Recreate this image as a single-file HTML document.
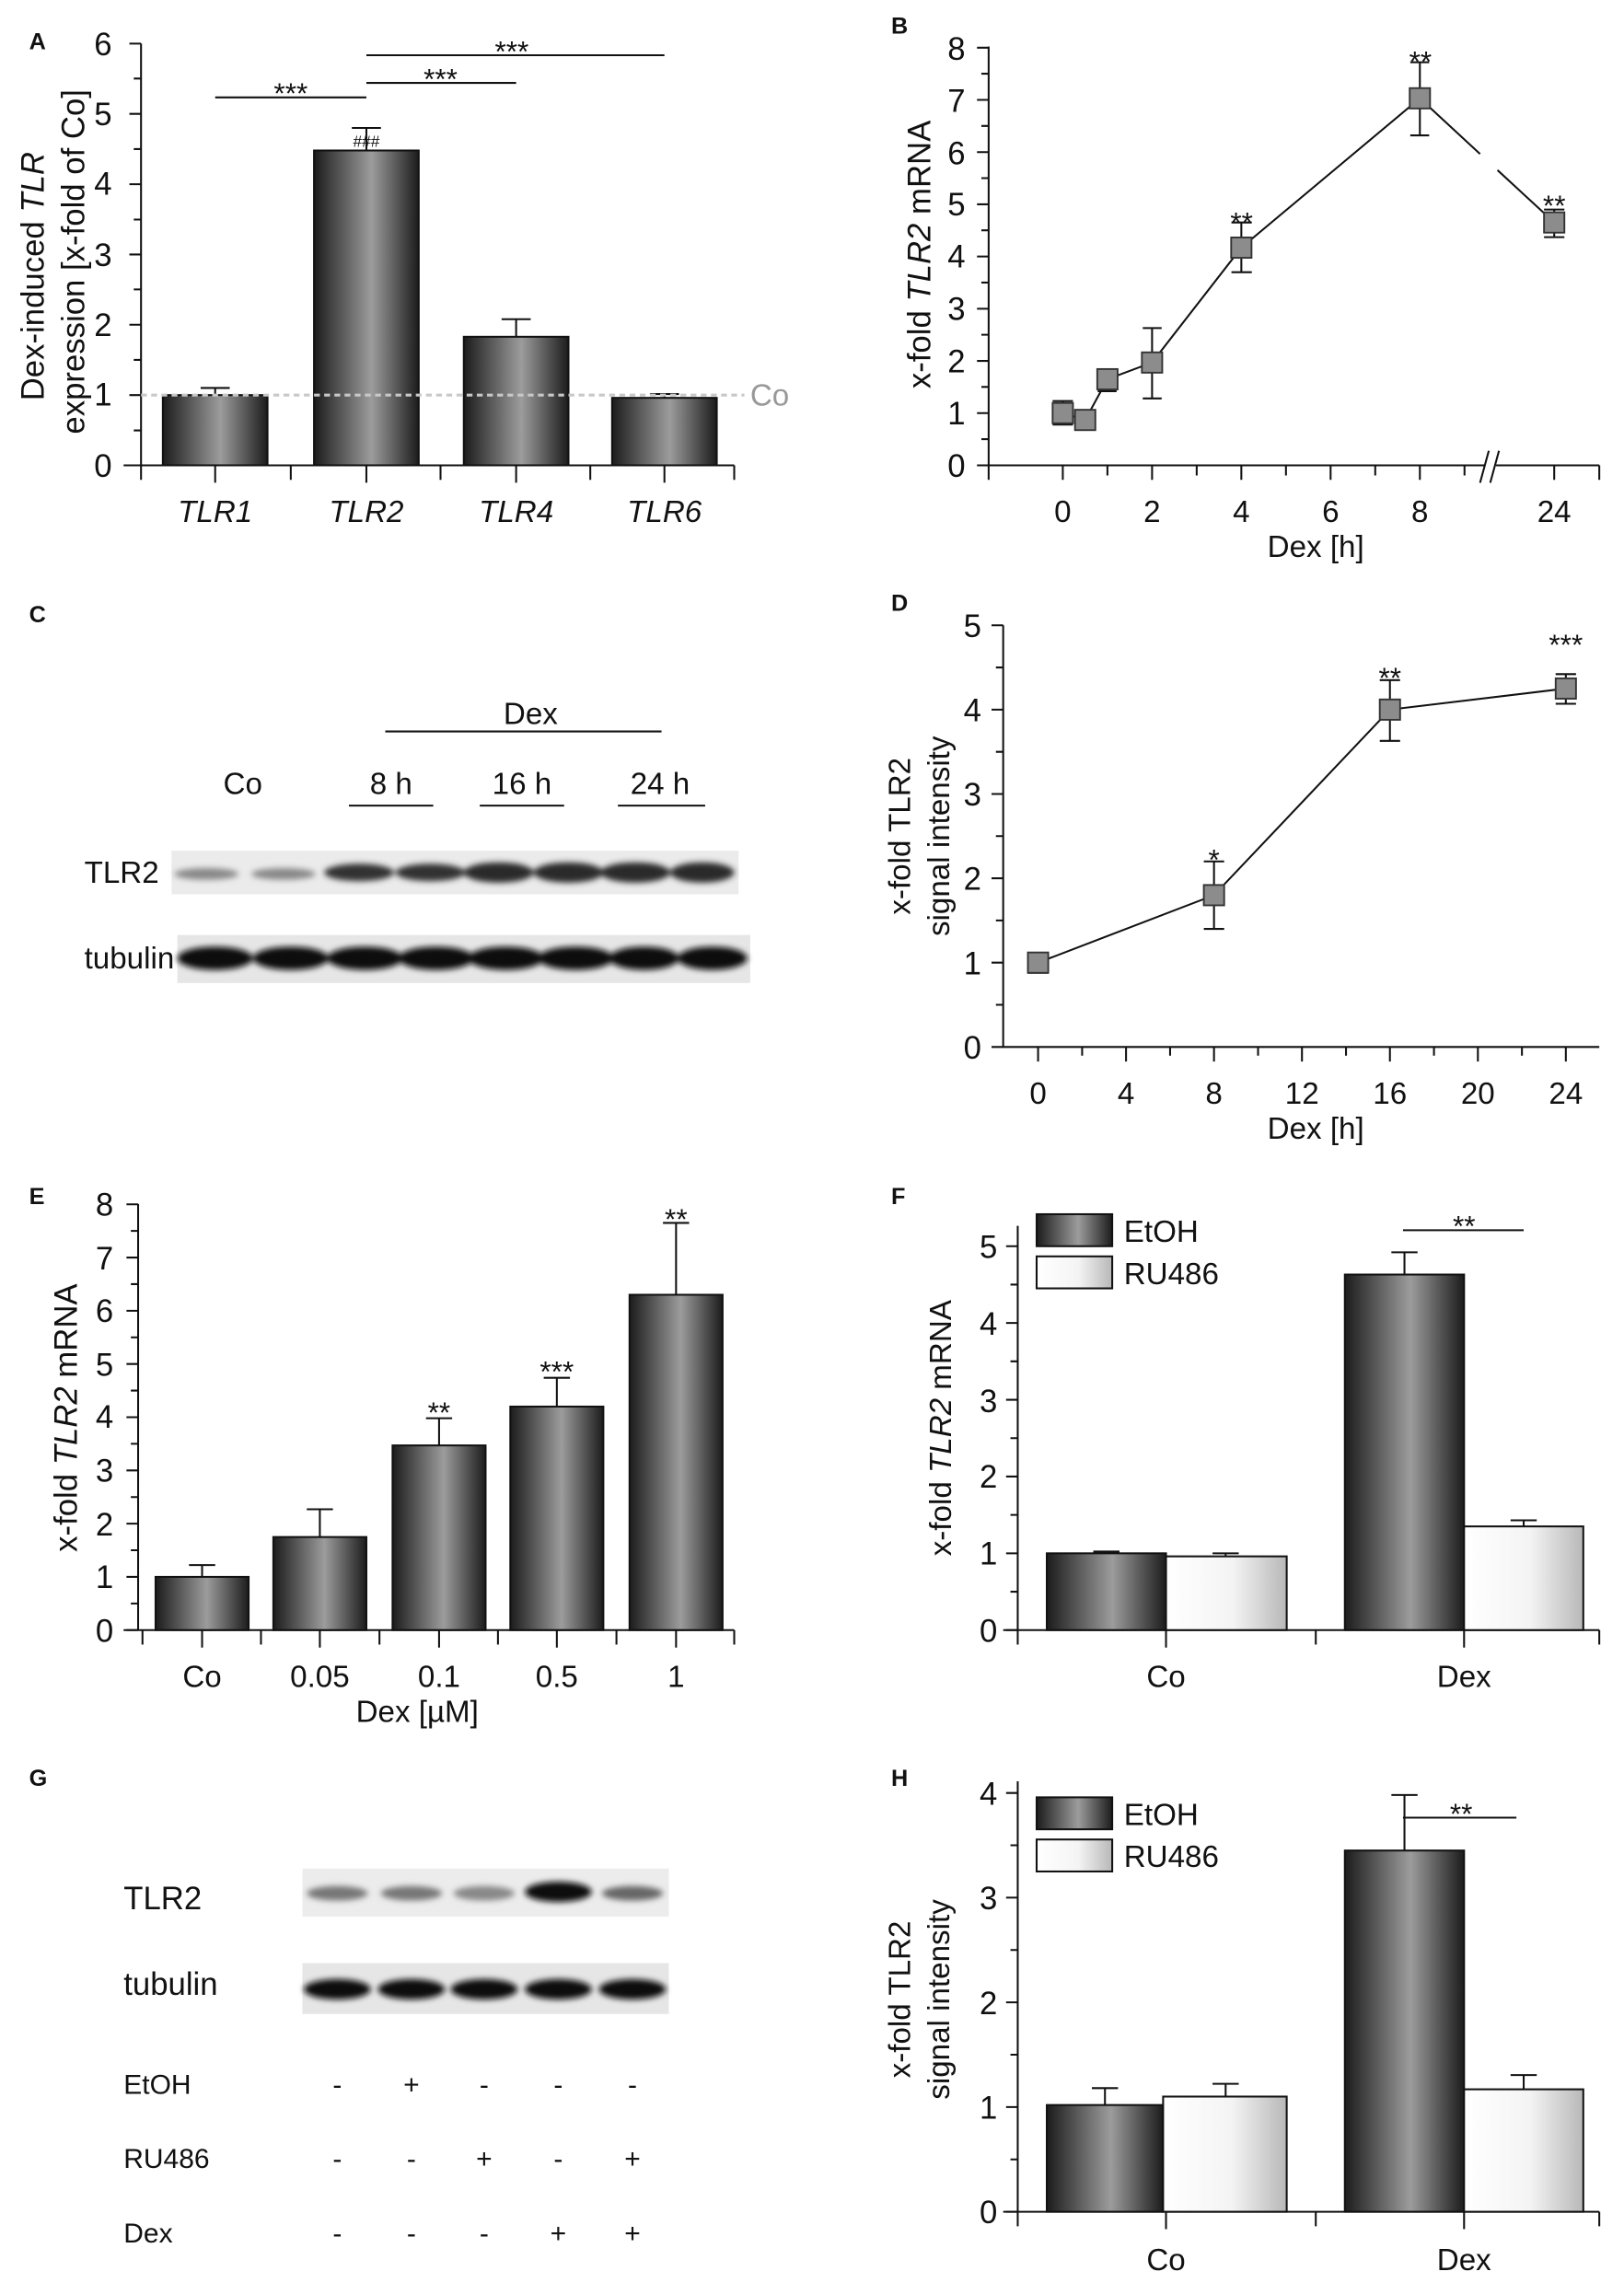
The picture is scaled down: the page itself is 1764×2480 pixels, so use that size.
<!DOCTYPE html>
<html><head><meta charset="utf-8"><style>
html,body{margin:0;padding:0;background:#fff}
svg{display:block}
text{font-family:"Liberation Sans",Arial,sans-serif;fill:#111}
</style></head><body>
<svg width="1764" height="2480" viewBox="0 0 1117 1570" preserveAspectRatio="none" xmlns="http://www.w3.org/2000/svg">
<defs>
<linearGradient id="gD" x1="0" x2="1" y1="0" y2="0"><stop offset="0" stop-color="#1c1c1c"/><stop offset="0.55" stop-color="#9c9c9c"/><stop offset="1" stop-color="#1c1c1c"/></linearGradient>
<linearGradient id="gW" x1="0" x2="1" y1="0" y2="0"><stop offset="0" stop-color="#ffffff"/><stop offset="0.55" stop-color="#f4f4f4"/><stop offset="1" stop-color="#b8b8b8"/></linearGradient>
<filter id="bl" x="-20%" y="-50%" width="140%" height="200%"><feGaussianBlur stdDeviation="2"/></filter>
</defs>
<g stroke="#111" stroke-width="1.3" fill="none">
<path d="M97 30V320M85 320H505"/>
<path d="M89 30H97M89 78.3H97M89 126.7H97M89 175H97M89 223.3H97M89 271.7H97M89 320H97M92 54H97M92 102.5H97M92 151H97M92 199H97M92 247.5H97M92 296H97"/>
<path d="M97 320V330M200 320V330M303 320V330M406 320V330M505 320V330M148 320V332M252 320V332M355 320V332M457 320V332"/>
<path d="M680 32V320M680 320H1021M1029 320H1100"/>
<path d="M672 32.8H680M672 68.7H680M672 104.6H680M672 140.5H680M672 176.4H680M672 212.3H680M672 248.2H680M672 284.1H680M672 320H680M675 50.7H680M675 86.6H680M675 122.5H680M675 158.4H680M675 194.3H680M675 230.2H680M675 266.1H680M675 302H680"/>
<path d="M680 320V330M731 320V330M761.7 320V327M792.4 320V330M823.1 320V327M853.8 320V330M884.5 320V327M915.2 320V330M945.9 320V327M976.6 320V330M1007.3 320V327M1069 320V330M1100 320V330"/>
<path d="M1018 332L1024 310M1025 332L1031 310"/>
<path d="M690 430V720H1100"/>
<path d="M682 430H690M682 488H690M682 546H690M682 604H690M682 662H690M682 720H690M685 459H690M685 517H690M685 575H690M685 633H690M685 691H690"/>
<path d="M714 720V730M774.5 720V730M835 720V730M895.5 720V730M956 720V730M1016.5 720V730M1077 720V730M744.3 720V726M804.8 720V726M865.3 720V726M925.8 720V726M986.3 720V726M1046.8 720V726"/>
<path d="M95 828V1121M85 1121H505"/>
<path d="M87 828.2H95M87 864.8H95M87 901.4H95M87 938H95M87 974.6H95M87 1011.2H95M87 1047.8H95M87 1084.4H95M87 1121H95M90 846.5H95M90 883.1H95M90 919.7H95M90 956.3H95M90 992.9H95M90 1029.5H95M90 1066.1H95M90 1102.7H95"/>
<path d="M98 1121V1131M179.5 1121V1131M261 1121V1131M342.5 1121V1131M424 1121V1131M505 1121V1131M139 1121V1133M220 1121V1133M302 1121V1133M383 1121V1133M465 1121V1133"/>
<path d="M700 843V1121M690 1121H1100"/>
<path d="M692 857H700M692 909.8H700M692 962.6H700M692 1015.4H700M692 1068.2H700M692 1121H700M695 883.4H700M695 936.2H700M695 989H700M695 1041.8H700M695 1094.6H700"/>
<path d="M700 1121V1131M802 1121V1133M905 1121V1131M1007 1121V1133M1100 1121V1131"/>
<path d="M700 1225V1521M690 1521H1100"/>
<path d="M692 1233H700M692 1305H700M692 1377H700M692 1449H700M692 1521H700M695 1269H700M695 1341H700M695 1413H700M695 1485H700"/>
<path d="M700 1521V1531M802 1521V1533M905 1521V1531M1007 1521V1533M1100 1521V1531"/>
</g>

<!-- Panel A -->
<text x="20" y="34" font-weight="bold" font-size="16">A</text>
<g stroke="#111" stroke-width="1.3">
<rect x="112" y="271.7" width="72" height="48.3" fill="url(#gD)"/>
<rect x="216" y="103.5" width="72" height="216.5" fill="url(#gD)"/>
<rect x="319" y="231.6" width="72" height="88.4" fill="url(#gD)"/>
<rect x="421" y="273.6" width="72" height="46.4" fill="url(#gD)"/>
<path d="M148 271.7V266.8M138 266.8H158M252 103.5V88M242 88H262M355 231.6V219.5M345 219.5H365M457 273.6V271M447 271H467" fill="none"/>
<path d="M148 67H252M252 57H355M252 38H457" fill="none"/>
</g>
<line x1="97" y1="271.7" x2="512" y2="271.7" stroke="#c8c8c8" stroke-width="2" stroke-dasharray="4,3"/>
<text x="516" y="279" font-size="21" style="fill:#999">Co</text>
<text x="200" y="71" font-size="20" text-anchor="middle">***</text>
<text x="303" y="61" font-size="20" text-anchor="middle">***</text>
<text x="352" y="42" font-size="20" text-anchor="middle">***</text>
<text x="252" y="101" font-size="11" text-anchor="middle">###</text>
<g font-size="22" text-anchor="end">
<text x="77" y="38">6</text><text x="77" y="86">5</text><text x="77" y="134">4</text><text x="77" y="183">3</text><text x="77" y="231">2</text><text x="77" y="279">1</text><text x="77" y="328">0</text>
</g>
<g font-size="21" font-style="italic" text-anchor="middle">
<text x="148" y="359">TLR1</text><text x="252" y="359">TLR2</text><text x="355" y="359">TLR4</text><text x="457" y="359">TLR6</text>
</g>
<text transform="translate(30,190) rotate(-90)" font-size="22" text-anchor="middle">Dex-induced <tspan font-style="italic">TLR</tspan></text>
<text transform="translate(58,180) rotate(-90)" font-size="22" text-anchor="middle">expression [x-fold of Co]</text>

<!-- Panel B -->
<text x="613" y="23" font-weight="bold" font-size="16">B</text>
<g stroke="#111" stroke-width="1.3" fill="none">
<path d="M731 284.1L746.4 288.8L761.7 260.8L792.4 249.3L853.8 170.3L976.6 67.6L1018 105.9M1030 117L1069 153"/>
<path d="M731 292V275.8M724 292H738M724 275.8H738M746.4 293V284.8M740 293H753M761.7 269V254.3M755 269H768M755 254.3H768M792.4 274V225.6M786 274H799M786 225.6H799M853.8 187.2V153M847 187.2H861M847 153H861M976.6 93.1V42.8M970 93.1H983M970 42.8H983M1069 163.1V144.1M1062 163.1H1076M1062 144.1H1076"/>
</g>
<g fill="#8c8c8c" stroke="#333" stroke-width="1.2">
<rect x="724" y="277.1" width="14" height="14"/><rect x="739.4" y="281.8" width="14" height="14"/><rect x="754.7" y="253.8" width="14" height="14"/><rect x="785.4" y="242.3" width="14" height="14"/><rect x="846.8" y="163.3" width="14" height="14"/><rect x="969.6" y="60.6" width="14" height="14"/><rect x="1062" y="146" width="14" height="14"/>
</g>
<g font-size="20" text-anchor="middle"><text x="854" y="160">**</text><text x="977" y="49">**</text><text x="1069" y="148">**</text></g>
<g font-size="22" text-anchor="end">
<text x="664" y="41">8</text><text x="664" y="77">7</text><text x="664" y="113">6</text><text x="664" y="148">5</text><text x="664" y="184">4</text><text x="664" y="220">3</text><text x="664" y="256">2</text><text x="664" y="292">1</text><text x="664" y="328">0</text>
</g>
<g font-size="21" text-anchor="middle">
<text x="731" y="359">0</text><text x="792.4" y="359">2</text><text x="853.8" y="359">4</text><text x="915.2" y="359">6</text><text x="976.6" y="359">8</text><text x="1069" y="359">24</text>
<text x="905" y="383">Dex [h]</text>
</g>
<text transform="translate(640,175) rotate(-90)" font-size="22" text-anchor="middle">x-fold <tspan font-style="italic">TLR2</tspan> mRNA</text>

<!-- Panel C -->
<text x="20" y="428" font-weight="bold" font-size="16">C</text>
<line x1="265" y1="503" x2="455" y2="503" stroke="#111" stroke-width="1.3"/>
<text x="365" y="498" font-size="21" text-anchor="middle">Dex</text>
<g font-size="21" text-anchor="middle"><text x="167" y="546">Co</text><text x="269" y="546">8 h</text><text x="359" y="546">16 h</text><text x="454" y="546">24 h</text></g>
<path d="M240 554H298M330 554H388M425 554H485" stroke="#111" stroke-width="1.3"/>
<text x="58" y="607" font-size="21">TLR2</text>
<text x="58" y="666" font-size="21">tubulin</text>
<rect x="118" y="585" width="390" height="30" fill="#ebebeb"/>
<rect x="122" y="643" width="394" height="33" fill="#e6e6e6"/>
<g filter="url(#bl)">
<ellipse cx="142" cy="601" rx="22" ry="4" fill="#888"/><ellipse cx="195" cy="601" rx="22" ry="4" fill="#888"/>
<ellipse cx="247" cy="600" rx="24" ry="6" fill="#333"/><ellipse cx="296" cy="600" rx="24" ry="6" fill="#333"/>
<ellipse cx="343" cy="600" rx="24" ry="7" fill="#2a2a2a"/><ellipse cx="391" cy="600" rx="24" ry="7" fill="#2a2a2a"/>
<ellipse cx="437" cy="600" rx="24" ry="7" fill="#2a2a2a"/><ellipse cx="483" cy="600" rx="22" ry="7" fill="#2a2a2a"/>
<ellipse cx="148" cy="659" rx="26" ry="8" fill="#111"/><ellipse cx="200" cy="659" rx="26" ry="8" fill="#111"/>
<ellipse cx="251" cy="659" rx="26" ry="8" fill="#111"/><ellipse cx="300" cy="659" rx="26" ry="8" fill="#111"/>
<ellipse cx="348" cy="659" rx="26" ry="8" fill="#111"/><ellipse cx="396" cy="659" rx="26" ry="8" fill="#111"/>
<ellipse cx="443" cy="659" rx="24" ry="8" fill="#111"/><ellipse cx="490" cy="659" rx="24" ry="8" fill="#111"/>
</g>

<!-- Panel D -->
<text x="613" y="420" font-weight="bold" font-size="16">D</text>
<g stroke="#111" stroke-width="1.3" fill="none">
<path d="M714 662L835 615.6L956 488L1077 473.5"/>
<path d="M714 669V656M707 669H721M707 656H721M835 638.8V592.4M828 638.8H842M828 592.4H842M956 509.5V467.7M949 509.5H963M949 467.7H963M1077 484V463.6M1070 484H1084M1070 463.6H1084"/>
</g>
<g fill="#8c8c8c" stroke="#333" stroke-width="1.2">
<rect x="707" y="655" width="14" height="14"/><rect x="828" y="608.6" width="14" height="14"/><rect x="949" y="481" width="14" height="14"/><rect x="1070" y="466.5" width="14" height="14"/>
</g>
<g font-size="20" text-anchor="middle"><text x="835" y="598">*</text><text x="956" y="473">**</text><text x="1077" y="450">***</text></g>
<g font-size="22" text-anchor="end">
<text x="675" y="438">5</text><text x="675" y="496">4</text><text x="675" y="554">3</text><text x="675" y="612">2</text><text x="675" y="670">1</text><text x="675" y="728">0</text>
</g>
<g font-size="21" text-anchor="middle">
<text x="714" y="759">0</text><text x="774.5" y="759">4</text><text x="835" y="759">8</text><text x="895.5" y="759">12</text><text x="956" y="759">16</text><text x="1016.5" y="759">20</text><text x="1077" y="759">24</text>
<text x="905" y="783">Dex [h]</text>
</g>
<text transform="translate(626,575) rotate(-90)" font-size="21" text-anchor="middle">x-fold TLR2</text>
<text transform="translate(653,575) rotate(-90)" font-size="21" text-anchor="middle">signal intensity</text>

<!-- Panel E -->
<text x="20" y="828" font-weight="bold" font-size="16">E</text>
<g stroke="#111" stroke-width="1.3">
<rect x="107" y="1084.4" width="64" height="36.6" fill="url(#gD)"/>
<rect x="188" y="1057" width="64" height="64" fill="url(#gD)"/>
<rect x="270" y="994" width="64" height="127" fill="url(#gD)"/>
<rect x="351" y="967.3" width="64" height="153.7" fill="url(#gD)"/>
<rect x="433" y="890.4" width="64" height="230.6" fill="url(#gD)"/>
<path d="M139 1084.4V1076.3M130 1076.3H148M220 1057V1037.9M211 1037.9H229M302 994V975.3M293 975.3H311M383 967.3V947.5M374 947.5H392M465 890.4V841M456 841H474" fill="none"/>
</g>
<g font-size="20" text-anchor="middle"><text x="302" y="978">**</text><text x="383" y="950">***</text><text x="465" y="845">**</text></g>
<g font-size="22" text-anchor="end">
<text x="78" y="836">8</text><text x="78" y="873">7</text><text x="78" y="909">6</text><text x="78" y="946">5</text><text x="78" y="982">4</text><text x="78" y="1019">3</text><text x="78" y="1056">2</text><text x="78" y="1092">1</text><text x="78" y="1129">0</text>
</g>
<g font-size="21" text-anchor="middle">
<text x="139" y="1160">Co</text><text x="220" y="1160">0.05</text><text x="302" y="1160">0.1</text><text x="383" y="1160">0.5</text><text x="465" y="1160">1</text>
<text x="287" y="1184">Dex [µM]</text>
</g>
<text transform="translate(53,975) rotate(-90)" font-size="22" text-anchor="middle">x-fold <tspan font-style="italic">TLR2</tspan> mRNA</text>

<!-- Panel F -->
<text x="613" y="828" font-weight="bold" font-size="16">F</text>
<g stroke="#111" stroke-width="1.3">
<rect x="720" y="1068.2" width="82" height="52.8" fill="url(#gD)"/>
<rect x="802" y="1070.3" width="83" height="50.7" fill="url(#gW)"/>
<rect x="925" y="876.5" width="82" height="244.5" fill="url(#gD)"/>
<rect x="1007" y="1049.7" width="82" height="71.3" fill="url(#gW)"/>
<path d="M761 1068.2V1067M752 1067H770M843 1070.3V1068.2M834 1068.2H852M966 876.5V861.2M957 861.2H975M1048 1049.7V1045.5M1039 1045.5H1057M965 846H1048" fill="none"/>
<rect x="713" y="835" width="52" height="22" fill="url(#gD)"/>
<rect x="713" y="864" width="52" height="22" fill="url(#gW)"/>
</g>
<text x="773" y="854" font-size="21">EtOH</text>
<text x="773" y="883" font-size="21">RU486</text>
<text x="1007" y="850" font-size="20" text-anchor="middle">**</text>
<g font-size="22" text-anchor="end">
<text x="686" y="865">5</text><text x="686" y="918">4</text><text x="686" y="971">3</text><text x="686" y="1023">2</text><text x="686" y="1076">1</text><text x="686" y="1129">0</text>
</g>
<g font-size="21" text-anchor="middle"><text x="802" y="1160">Co</text><text x="1007" y="1160">Dex</text></g>
<text transform="translate(654,982) rotate(-90)" font-size="21" text-anchor="middle">x-fold <tspan font-style="italic">TLR2</tspan> mRNA</text>

<!-- Panel G -->
<text x="20" y="1228" font-weight="bold" font-size="16">G</text>
<text x="85" y="1313" font-size="22">TLR2</text>
<text x="85" y="1372" font-size="22">tubulin</text>
<rect x="208" y="1285" width="252" height="33" fill="#ececec"/>
<rect x="208" y="1350" width="252" height="35" fill="#e6e6e6"/>
<g filter="url(#bl)">
<ellipse cx="232" cy="1302" rx="21" ry="5" fill="#777"/><ellipse cx="283" cy="1302" rx="21" ry="5" fill="#777"/>
<ellipse cx="333" cy="1302" rx="21" ry="5" fill="#888"/><ellipse cx="384" cy="1301" rx="23" ry="7" fill="#111"/>
<ellipse cx="435" cy="1302" rx="21" ry="5" fill="#666"/>
<ellipse cx="232" cy="1368" rx="23" ry="7" fill="#111"/><ellipse cx="283" cy="1368" rx="23" ry="7" fill="#111"/>
<ellipse cx="333" cy="1368" rx="23" ry="7" fill="#111"/><ellipse cx="384" cy="1368" rx="23" ry="7" fill="#111"/>
<ellipse cx="435" cy="1368" rx="23" ry="7" fill="#111"/>
</g>
<g font-size="19">
<text x="85" y="1440">EtOH</text><text x="85" y="1491">RU486</text><text x="85" y="1542">Dex</text>
</g>
<g font-size="19" text-anchor="middle">
<text x="232" y="1440">-</text><text x="283" y="1440">+</text><text x="333" y="1440">-</text><text x="384" y="1440">-</text><text x="435" y="1440">-</text>
<text x="232" y="1491">-</text><text x="283" y="1491">-</text><text x="333" y="1491">+</text><text x="384" y="1491">-</text><text x="435" y="1491">+</text>
<text x="232" y="1542">-</text><text x="283" y="1542">-</text><text x="333" y="1542">-</text><text x="384" y="1542">+</text><text x="435" y="1542">+</text>
</g>

<!-- Panel H -->
<text x="613" y="1228" font-weight="bold" font-size="16">H</text>
<g stroke="#111" stroke-width="1.3">
<rect x="720" y="1447.6" width="80" height="73.4" fill="url(#gD)"/>
<rect x="800" y="1441.8" width="85" height="79.2" fill="url(#gW)"/>
<rect x="925" y="1272.6" width="82" height="248.4" fill="url(#gD)"/>
<rect x="1007" y="1436.8" width="82" height="84.2" fill="url(#gW)"/>
<path d="M760 1447.6V1436M751 1436H769M843 1441.8V1433M834 1433H852M966 1272.6V1234.4M957 1234.4H975M1048 1436.8V1427M1039 1427H1057M965 1250H1043" fill="none"/>
<rect x="713" y="1236" width="52" height="22" fill="url(#gD)"/>
<rect x="713" y="1265" width="52" height="22" fill="url(#gW)"/>
</g>
<text x="773" y="1255" font-size="21">EtOH</text>
<text x="773" y="1284" font-size="21">RU486</text>
<text x="1005" y="1254" font-size="20" text-anchor="middle">**</text>
<g font-size="22" text-anchor="end">
<text x="686" y="1241">4</text><text x="686" y="1313">3</text><text x="686" y="1385">2</text><text x="686" y="1457">1</text><text x="686" y="1529">0</text>
</g>
<g font-size="21" text-anchor="middle"><text x="802" y="1561">Co</text><text x="1007" y="1561">Dex</text></g>
<text transform="translate(626,1375) rotate(-90)" font-size="21" text-anchor="middle">x-fold TLR2</text>
<text transform="translate(653,1375) rotate(-90)" font-size="21" text-anchor="middle">signal intensity</text>
</svg>
</body></html>
